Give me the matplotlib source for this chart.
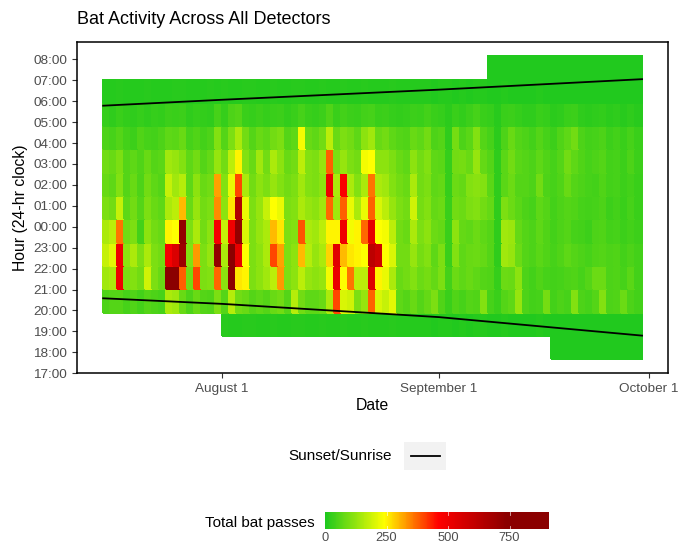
import datetime as dt
import numpy as np
import matplotlib.pyplot as plt
import matplotlib.dates as mdates
from matplotlib.colors import LinearSegmentedColormap, Normalize
from matplotlib.patches import Rectangle
from matplotlib.lines import Line2D

plt.rcParams['font.family'] = ['Liberation Sans', 'DejaVu Sans']

# Total bat passes per night-hour, one value per day starting 15 July
first_day = dt.date(2019, 7, 15)

p05 = [10, 8, 12, 10, 8, 10, 12, 9, 8, 10,
       14, 12, 9, 8, 10, 11, 9, 12, 10, 9,
       14, 11, 10, 8, 12, 10, 9, 11, 13, 10,
       9, 12, 10, 8, 11, 10, 9, 12, 10, 8,
       9, 11, 10, 8, 9, 10, 8, 7, 9, 8,
       6, 8, 7, 9, 8, 6, 7, 8, 6, 5,
       7, 6, 8, 5, 6, 7, 5, 6, 5, 7,
       6, 5, 6, 5, 7, 5, 6]
p04 = [25, 20, 30, 22, 18, 25, 20, 28, 22, 35,
       30, 35, 20, 25, 22, 18, 45, 25, 50, 60,
       30, 25, 35, 28, 30, 35, 22, 30, 45, 30,
       28, 35, 55, 30, 40, 35, 30, 40, 45, 30,
       35, 28, 22, 25, 35, 30, 40, 30, 25, 15,
       30, 22, 35, 45, 30, 25, 12, 30, 35, 25,
       20, 18, 30, 25, 15, 20, 30, 35, 20, 15,
       18, 22, 15, 20, 14, 18, 12]
p03 = [50, 45, 60, 40, 35, 55, 45, 40, 50, 70,
       65, 80, 45, 55, 40, 50, 110, 60, 100, 150,
       90, 60, 80, 70, 90, 100, 60, 70, 230, 80,
       70, 90, 170, 80, 100, 90, 70, 120, 140, 80,
       90, 70, 60, 55, 80, 70, 90, 50, 60, 20,
       95, 50, 65, 110, 60, 45, 15, 50, 80, 60,
       50, 40, 60, 45, 35, 55, 70, 90, 50, 40,
       45, 50, 35, 40, 30, 45, 30]
p02 = [90, 80, 100, 60, 70, 55, 80, 60, 65, 140,
       130, 110, 70, 90, 60, 75, 130, 90, 170, 250,
       110, 80, 140, 90, 150, 120, 80, 90, 170, 110,
       100, 130, 380, 100, 130, 100, 90, 230, 240, 120,
       120, 100, 80, 70, 120, 90, 110, 70, 65, 25,
       90, 95, 80, 130, 75, 60, 20, 65, 90, 65,
       60, 50, 70, 55, 45, 60, 90, 70, 55, 45,
       50, 60, 40, 45, 35, 50, 35]
p01 = [80, 70, 110, 60, 80, 50, 90, 70, 60, 180,
       140, 160, 70, 120, 80, 90, 320, 110, 220, 400,
       150, 90, 120, 100, 130, 110, 90, 100, 140, 110,
       100, 120, 500, 150, 470, 150, 110, 150, 360, 150,
       140, 110, 90, 80, 150, 90, 100, 70, 75, 25,
       85, 75, 110, 115, 110, 65, 20, 65, 85, 60,
       60, 50, 90, 50, 45, 55, 80, 60, 50, 45,
       40, 55, 40, 45, 35, 40, 30]
p00 = [100, 90, 180, 70, 90, 60, 100, 80, 70, 150,
       170, 300, 80, 130, 90, 100, 340, 120, 260, 650,
       220, 100, 130, 180, 240, 220, 100, 110, 150, 130,
       120, 140, 370, 140, 380, 220, 150, 220, 380, 200,
       170, 130, 100, 90, 190, 95, 110, 75, 85, 30,
       90, 85, 100, 110, 90, 75, 20, 100, 85, 65,
       50, 45, 70, 60, 40, 50, 60, 55, 45, 40,
       45, 50, 35, 40, 30, 45, 30]
p23 = [150, 170, 360, 90, 100, 40, 120, 90, 80, 250,
       240, 720, 100, 150, 90, 120, 480, 180, 500, 720,
       200, 100, 130, 150, 300, 260, 100, 110, 390, 150,
       140, 170, 250, 250, 500, 230, 250, 370, 520, 240,
       230, 170, 90, 80, 150, 100, 120, 85, 75, 30,
       120, 75, 70, 85, 70, 60, 20, 140, 135, 75,
       60, 50, 70, 55, 40, 50, 60, 45, 40, 35,
       50, 55, 40, 45, 35, 40, 35]
p22 = [180, 210, 500, 120, 150, 100, 150, 100, 90, 480,
       550, 700, 110, 330, 100, 130, 720, 150, 780, 520,
       240, 100, 120, 150, 400, 320, 100, 120, 300, 160,
       130, 150, 280, 530, 300, 260, 250, 240, 620, 580,
       240, 200, 90, 90, 130, 95, 110, 70, 100, 30,
       110, 70, 80, 85, 75, 60, 20, 140, 130, 85,
       60, 50, 65, 55, 45, 55, 70, 60, 50, 45,
       55, 60, 50, 55, 40, 50, 40]
p21 = [140, 150, 500, 100, 110, 90, 190, 100, 80, 760,
       740, 380, 90, 400, 100, 110, 370, 120, 780, 260,
       250, 100, 120, 140, 170, 330, 100, 120, 170, 130,
       120, 130, 230, 510, 240, 360, 170, 170, 540, 250,
       220, 150, 80, 90, 110, 85, 95, 75, 100, 40,
       85, 70, 80, 70, 60, 55, 25, 85, 80, 120,
       50, 40, 55, 45, 40, 45, 50, 55, 45, 60,
       85, 85, 50, 55, 45, 65, 40]
p20 = [50, 60, 60, 45, 55, 40, 60, 50, 45, 150,
       140, 80, 50, 80, 60, 55, 100, 60, 160, 90,
       80, 60, 70, 60, 80, 90, 60, 160, 90, 70,
       70, 80, 150, 400, 200, 190, 100, 130, 380, 200,
       180, 210, 70, 60, 80, 60, 75, 100, 55, 30,
       55, 45, 60, 55, 110, 45, 30, 60, 70, 130,
       50, 40, 45, 95, 40, 50, 45, 110, 50, 45,
       60, 110, 50, 55, 85, 50, 40]
# partial hours: recorded only from 1 Aug, 8 Sep and 17 Sep respectively
p19 = [12, 10, 9, 14, 11, 10, 8, 12, 10, 9,
       11, 13, 10, 9, 12, 10, 8, 11, 10, 9,
       12, 10, 8, 9, 11, 10, 8, 9, 10, 8,
       7, 9, 8, 6, 8, 7, 9, 8, 6, 7,
       8, 6, 5, 7, 6, 8, 5, 6, 7, 5,
       6, 5, 7, 6, 5, 6, 5, 7, 5, 6]
p06 = [5, 6, 5, 4, 6, 5, 5, 4, 6, 5, 4,
       5, 6, 4, 5, 5, 4, 6, 5, 4, 5, 4]
p18 = [5, 4, 6, 5, 4, 5, 6, 4, 5, 5, 4, 5, 4]

hour_rows = [p18, p19, p20, p21, p22, p23, p00, p01, p02, p03, p04, p05, p06]

# sunrise / sunset times
sun_dates = [dt.date(2019, 7, 15), dt.date(2019, 8, 1), dt.date(2019, 9, 1), dt.date(2019, 9, 30)]
sunrise = ['05:47', '06:04', '06:33', '07:03']
sunset = ['20:35', '20:19', '19:41', '18:48']

ytick_hours = [17, 18, 19, 20, 21, 22, 23, 0, 1, 2, 3, 4, 5, 6, 7, 8]
cbar_ticks = [0, 250, 500, 750]
date_ticks = [dt.date(2019, 8, 1), dt.date(2019, 9, 1), dt.date(2019, 10, 1)]
date_labels = ['August 1', 'September 1', 'October 1']


def hrs(t, morning):
    h, m = t.split(':')
    v = int(h) + int(m) / 60 - 17
    return v + 24 if morning else v


n_days = len(p20)
grid = np.array([[np.nan] * (n_days - len(r)) + list(r) for r in hour_rows], dtype=float)
x_edges = mdates.date2num([first_day + dt.timedelta(days=i) for i in range(n_days + 1)])
# tile rows are a bit taller than one hour on the axis in the original
row_h = 1.1135
y_edges = 0.67 + row_h * np.arange(len(hour_rows) + 1)

cmap = LinearSegmentedColormap.from_list('bats', [
    (0.0, '#1ec81e'), (240 / 910, '#ffff00'), (460 / 910, '#ff0000'),
    (740 / 910, '#8b0000'), (1.0, '#8b0000')])
norm = Normalize(0, 910)

fig = plt.figure(figsize=(6.78, 5.46), dpi=100)
ax = fig.add_axes([76.9 / 678, 1 - 373.3 / 546, (668.3 - 76.9) / 678, (373.3 - 41.7) / 546])

mesh = ax.pcolormesh(x_edges, y_edges, np.ma.masked_invalid(grid), cmap=cmap, norm=norm,
                     edgecolors='face', linewidth=0.2)

sun_x = mdates.date2num(sun_dates)
ax.plot(sun_x, [hrs(t, True) for t in sunrise], color='black', lw=1.3)
ax.plot(sun_x, [hrs(t, False) for t in sunset], color='black', lw=1.3)

pad = 3.75
ax.set_xlim(x_edges[0] - pad, x_edges[-1] + pad)
ax.set_ylim(0, 15.84)
ax.set_yticks(range(len(ytick_hours)))
ax.set_yticklabels([f'{h:02d}:00' for h in ytick_hours])
ax.set_xticks(mdates.date2num(date_ticks))
ax.set_xticklabels(date_labels)
ax.tick_params(labelsize=9.7, labelcolor='#4d4d4d', length=3.5, width=0.8, color='#333333')
for s in ax.spines.values():
    s.set_linewidth(1.1)
    s.set_color('black')

ax.set_xlabel('Date', fontsize=11.3, labelpad=2)
ax.set_ylabel('Hour (24-hr clock)', fontsize=11.3, labelpad=4)
fig.text(76.9 / 678, 1 - 19 / 546, 'Bat Activity Across All Detectors', fontsize=13,
         ha='left', va='center')

# line legend
fig.text(392 / 678, 1 - 456 / 546, 'Sunset/Sunrise', fontsize=11, ha='right', va='center')
fig.patches.append(Rectangle((404 / 678, 1 - 470 / 546), 42 / 678, 28 / 546,
                             transform=fig.transFigure, facecolor='#f2f2f2', edgecolor='none'))
fig.lines.append(Line2D([411 / 678, 440 / 678], [1 - 456 / 546] * 2, transform=fig.transFigure,
                        color='black', lw=1.3))

# colour bar
cax = fig.add_axes([325 / 678, 1 - 529.3 / 546, 224 / 678, 17.6 / 546])
cb = fig.colorbar(mesh, cax=cax, orientation='horizontal', ticks=cbar_ticks)
cb.outline.set_visible(False)
cax.tick_params(length=0, labelsize=9.3, labelcolor='#4d4d4d', pad=2)
for v in cbar_ticks[1:]:
    cax.axvline(v, 0, 0.2, color='white', lw=0.6, alpha=0.7)
    cax.axvline(v, 0.8, 1, color='white', lw=0.6, alpha=0.7)
fig.text(315 / 678, 1 - 523 / 546, 'Total bat passes', fontsize=11, ha='right', va='center')

fig.savefig('out.png', dpi=100, facecolor='white')
